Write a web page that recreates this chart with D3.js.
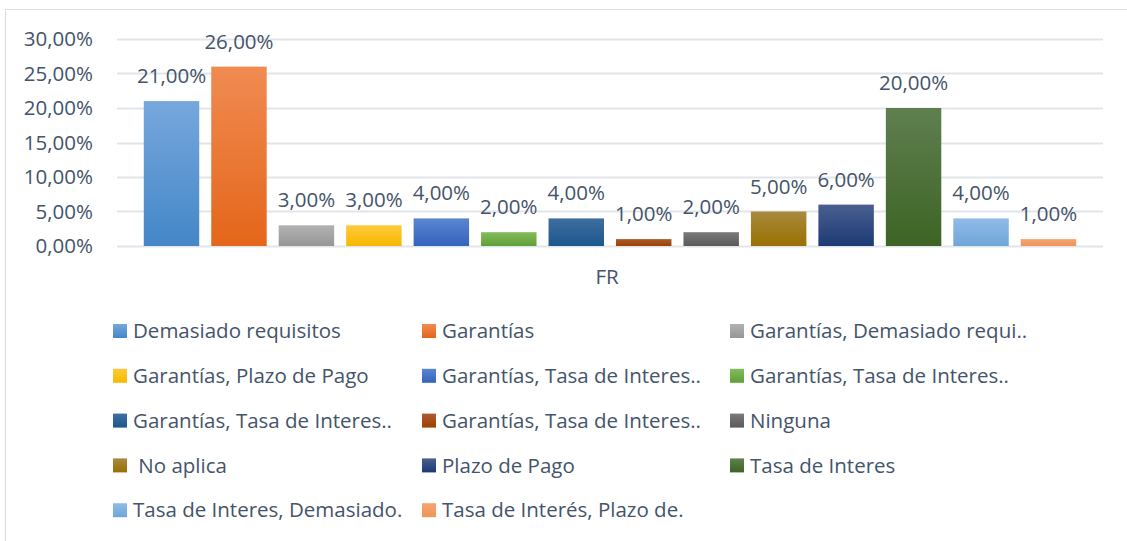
<!DOCTYPE html>
<html>
<head>
<meta charset="utf-8">
<script src="https://cdn.jsdelivr.net/npm/d3@7"></script>
<style>
  body { margin: 0; background: #fff; }
  text { font-family: "Open Sans", "Noto Sans", sans-serif; fill: #44546a; }
</style>
</head>
<body>
<div id="chart"></div>
<script>
// data
var categories = [
  "Demasiado requisitos", "Garantías", "Garantías, Demasiado requi..",
  "Garantías, Plazo de Pago", "Garantías, Tasa de Interes..", "Garantías, Tasa de Interes..",
  "Garantías, Tasa de Interes..", "Garantías, Tasa de Interes..", "Ninguna",
  " No aplica", "Plazo de Pago", "Tasa de Interes",
  "Tasa de Interes, Demasiado.", "Tasa de Interés, Plazo de."
];
var values = [0.21, 0.26, 0.03, 0.03, 0.04, 0.02, 0.04, 0.01, 0.02, 0.05, 0.06, 0.20, 0.04, 0.01];
var groupLabel = "FR";
var yTicks = [0, 0.05, 0.10, 0.15, 0.20, 0.25, 0.30];
var topColors = ["#76a8dc", "#f08b52", "#b2b2b2", "#ffca3a", "#5b85d0", "#84bc5c", "#3f6e9f",
                 "#ad5a30", "#7a7a7a", "#a88a40", "#4a5f8f", "#5f7f50", "#90bce6", "#f4a472"];
var bottomColors = ["#4486c8", "#e4661a", "#969696", "#f5b800", "#3463bd", "#5f9f38", "#1b578f",
                    "#9c4200", "#5a5a5a", "#9a7000", "#1c3a75", "#3d6424", "#6ea5d9", "#ef9556"];

var W = 1127, H = 541;
var margin = {top: 39, left: 117, right: 24, bottom: 295};
var plotW = W - margin.left - margin.right,
    plotH = H - margin.top - margin.bottom;
var fs = 20.5;

var svg = d3.select("#chart").append("svg")
    .attr("width", W).attr("height", H);

// outer chart border (right and bottom are cut off)
svg.append("path")
    .attr("d", "M5.5,541V9.5H1127")
    .attr("fill", "none")
    .attr("stroke", "#d9dde2")
    .attr("stroke-width", 1);

var g = svg.append("g")
    .attr("transform", "translate(" + margin.left + "," + margin.top + ")");

var locale = d3.formatLocale({decimal: ",", thousands: ".", grouping: [3], currency: ["", "€"]});
var fmt = locale.format(".2%");

var y = d3.scaleLinear().domain([0, 0.30]).range([plotH, 0]);
var x = d3.scaleBand().domain(d3.range(categories.length))
    .range([0, plotW]).paddingInner(0.178).paddingOuter(0.397);

// gridlines
g.append("g")
    .selectAll("line")
    .data(yTicks)
    .join("line")
      .attr("x1", 0).attr("x2", plotW)
      .attr("y1", function(d) { return Math.round(y(d)) + 0.5; })
      .attr("y2", function(d) { return Math.round(y(d)) + 0.5; })
      .attr("stroke", "#e1e5ea")
      .attr("stroke-width", 2);

// y axis
var yAxis = g.append("g")
    .call(d3.axisLeft(y).tickValues(yTicks).tickFormat(fmt).tickSize(0).tickPadding(24));
yAxis.select(".domain").remove();
yAxis.selectAll("text")
    .attr("font-size", fs)
    .attr("fill", "#44546a")
    .style("font-family", "'Open Sans', 'Noto Sans', sans-serif");

// gradients
var defs = svg.append("defs");
categories.forEach(function(c, i) {
  var grad = defs.append("linearGradient")
      .attr("id", "grad" + i)
      .attr("x1", 0).attr("y1", 0).attr("x2", 0).attr("y2", 1);
  grad.append("stop").attr("offset", "0%").attr("stop-color", topColors[i]);
  grad.append("stop").attr("offset", "100%").attr("stop-color", bottomColors[i]);
});

// bars
g.selectAll(".bar")
    .data(values)
    .join("rect")
      .attr("class", "bar")
      .attr("x", function(d, i) { return x(i); })
      .attr("width", x.bandwidth())
      .attr("y", function(d) { return y(d); })
      .attr("height", function(d) { return y(0) - y(d); })
      .attr("fill", function(d, i) { return "url(#grad" + i + ")"; });

// data labels
g.selectAll(".lbl")
    .data(values)
    .join("text")
      .attr("class", "lbl")
      .attr("x", function(d, i) { return x(i) + x.bandwidth() / 2; })
      .attr("y", function(d) { return y(d) - 18; })
      .attr("text-anchor", "middle")
      .attr("font-size", fs)
      .text(function(d) { return fmt(d); });

// category label
g.append("text")
    .attr("x", plotW / 2 - 3)
    .attr("y", plotH + 38)
    .attr("text-anchor", "middle")
    .attr("font-size", fs)
    .text(groupLabel);

// legend
var legX = [113, 422, 730], legY0 = 331, legStep = 44.8;
var leg = svg.append("g").selectAll("g")
    .data(categories)
    .join("g")
      .attr("transform", function(d, i) {
        return "translate(" + legX[i % 3] + "," + (legY0 + Math.floor(i / 3) * legStep) + ")";
      });
leg.append("rect")
    .attr("x", 0).attr("y", -7)
    .attr("width", 14).attr("height", 14)
    .attr("fill", function(d, i) { return "url(#grad" + i + ")"; });
leg.append("text")
    .attr("x", 20)
    .attr("dy", "0.35em")
    .attr("font-size", fs)
    .style("white-space", "pre")
    .text(function(d) { return d; });
</script>
</body>
</html>
